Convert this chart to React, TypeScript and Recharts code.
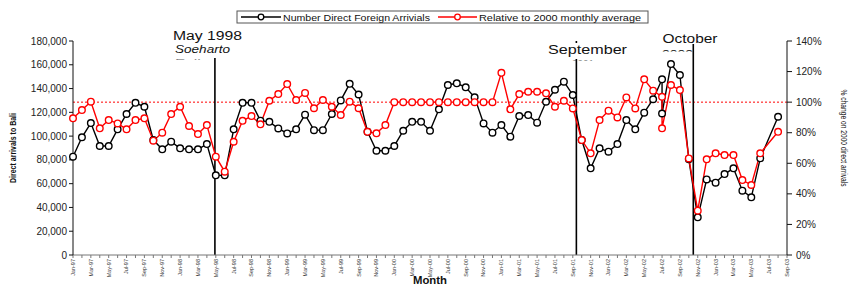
import React from 'react';
import { LineChart, Line, XAxis, YAxis, ReferenceLine } from 'recharts';

const FONT = '"Liberation Sans", Arial, Helvetica, sans-serif';

// category labels: Jan-97 .. Sep-03
const monthNames = ['Jan', 'Feb', 'Mar', 'Apr', 'May', 'Jun', 'Jul', 'Aug', 'Sep', 'Oct', 'Nov', 'Dec'];
const years = ['97', '98', '99', '00', '01', '02', '03'];
const months = years.flatMap((y) => monthNames.map((m) => `${m}-${y}`)).slice(0, 81);

// Number of direct foreign arrivals, Jan-97 .. Aug-03
const arrivals = [
  82700, 99000, 111000, 91700, 91700, 105700, 118600, 128000, 124700, 96700, 88900, 95300,
  89700, 88900, 88900, 93300, 67000, 67000, 105700, 128000, 128000, 113000, 112000, 106500,
  102300, 105700, 118000, 105000, 105000, 118600, 130000, 144000, 135000, 103700, 87700, 87700,
  91700, 104500, 112000, 112000, 104500, 122500, 143000, 144400, 141000, 132600, 110700, 102900,
  109300, 99500, 116900, 117700, 111300, 128900, 139000, 145800, 134600, 96700, 72900, 89700,
  86900, 93300, 113500, 105700, 119700, 131000, 147800, 160600, 151400, 80500, 31700, 63600,
  60800, 68100, 72900, 54100, 48500, 81300, 119000, 116300,
];

// Relative to 2000 monthly average (%), Jan-97 .. Aug-03
const relative = [
  89.4, 94.8, 100.3, 82.9, 88.3, 86.1, 82.2, 88.3, 89.4, 74.8, 80.0, 92.2,
  97.0, 84.4, 79.1, 85.0, 64.3, 54.5, 74.1, 87.8, 90.9, 85.5, 100.9, 105.3,
  111.8, 101.4, 106.0, 96.0, 101.4, 97.0, 91.6, 100.3, 96.0, 80.6, 79.6, 85.0,
  100, 100, 100, 100, 100, 100, 100, 100, 100, 100, 100, 100,
  119.2, 95.3, 105.3, 106.8, 106.8, 105.8, 97.0, 100.9, 95.9, 75.2, 66.5, 88.3,
  94.4, 90.0, 103.1, 95.9, 114.9, 107.5, 103.5, 111.2, 107.9, 63.2, 29.0, 62.6,
  66.5, 65.4, 65.4, 49.0, 45.8, 66.5, 82.9, 80.6,
];

// in the source chart the Jul-03 value sits on the Jul-02 date
const misdatedMonth = 'Jul-03';
const plottedAtMonth = 'Jul-02';

const leftTicks = [0, 20000, 40000, 60000, 80000, 100000, 120000, 140000, 160000, 180000];
const rightTicks = [0, 20, 40, 60, 80, 100, 120, 140];
const monthTicks = months.map((_, i) => i);

// event markers, in months from Jan-97
const eventMonths = [15.9, 56.4, 69.5];

const rows = arrivals.map((v, i) => ({ x: i, month: months[i], arrivals: v, relative: relative[i] }));
const at = months.indexOf(plottedAtMonth);
const stray = { ...rows[months.indexOf(misdatedMonth)], x: at };
const chartRows = [
  ...rows.slice(0, at + 1),
  stray,
  ...rows.slice(at + 1).filter((r) => r.month !== misdatedMonth),
];

function MonthTick(props: any) {
  const { x, y, payload } = props;
  const label = months[payload.value];
  if (payload.value % 2 !== 0 || !label) return <g />;
  return (
    <text
      x={x}
      y={y}
      transform={`rotate(-90 ${x} ${y})`}
      textAnchor="end"
      dy="0.35em"
      fontSize={5.5}
      fill="#333"
      fontFamily={FONT}
    >
      {label}
    </text>
  );
}

function LeftTitle() {
  return (
    <text
      x={13}
      y={148}
      transform="rotate(-90 13 148)"
      textAnchor="middle"
      dy="0.35em"
      fontSize={9}
      fontWeight="bold"
      fill="#111"
      fontFamily={FONT}
      textLength={70}
      lengthAdjust="spacingAndGlyphs"
    >
      Direct arrivals to Bali
    </text>
  );
}

function RightTitle() {
  return (
    <text
      x={844}
      y={138}
      transform="rotate(90 844 138)"
      textAnchor="middle"
      dy="0.35em"
      fontSize={9}
      fill="#111"
      fontFamily={FONT}
      textLength={97}
      lengthAdjust="spacingAndGlyphs"
    >
      % change on 2000 direct arrivals
    </text>
  );
}

function MonthTitle() {
  return (
    <text x={430} y={284} textAnchor="middle" fontSize={10} fontWeight="bold" fill="#111" fontFamily={FONT}
      textLength={34} lengthAdjust="spacingAndGlyphs">
      Month
    </text>
  );
}

const dot = (stroke: string) => ({ r: 3.3, fill: '#fff', stroke, strokeWidth: 1.4 });

function Overlay() {
  const t = { fontFamily: FONT, fill: '#111', lengthAdjust: 'spacingAndGlyphs' as const };
  return (
    <svg width={850} height={287} style={{ position: 'absolute', left: 0, top: 0, pointerEvents: 'none' }}>
      <defs>
        <clipPath id="boxMay"><rect x={171} y={27} width={78} height={32.5} /></clipPath>
        <clipPath id="boxSep"><rect x={545} y={43} width={84} height={17.5} /></clipPath>
        <clipPath id="boxOct"><rect x={659} y={32} width={62} height={19.5} /></clipPath>
      </defs>

      {/* legend */}
      <rect x={237} y={11} width={411} height={12} fill="#fff" stroke="#555" strokeWidth={1} />
      <line x1={241} y1={17} x2={281} y2={17} stroke="#000" strokeWidth={1.4} />
      <circle cx={261} cy={17} r={2.8} fill="#fff" stroke="#000" strokeWidth={1.3} />
      <text x={283} y={20.5} fontSize={9} textLength={147} {...t}>Number Direct Foreign Arrivials</text>
      <line x1={438} y1={17} x2={477} y2={17} stroke="#ff0000" strokeWidth={1.4} />
      <circle cx={457.5} cy={17} r={2.8} fill="#fff" stroke="#ff0000" strokeWidth={1.3} />
      <text x={479} y={20.5} fontSize={9} textLength={162} {...t}>Relative to 2000 monthly average</text>

      {/* event notes, the last line of each box is cut off as in the source */}
      <rect x={171} y={27} width={78} height={31} fill="#fff" />
      <g clipPath="url(#boxMay)">
        <text x={173} y={39.5} fontSize={12} textLength={69} {...t}>May 1998</text>
        <text x={175} y={52.5} fontSize={11} fontStyle="italic" textLength={55} {...t}>Soeharto</text>
        <text x={175} y={66.5} fontSize={11} textLength={34} {...t}>Falls</text>
      </g>
      <rect x={545} y={43} width={84} height={16} fill="#fff" />
      <g clipPath="url(#boxSep)">
        <text x={548} y={54} fontSize={12} textLength={79} {...t}>September</text>
        <text x={572} y={67.5} fontSize={11} textLength={22} {...t}>2001</text>
      </g>
      <rect x={659} y={32} width={62} height={12} fill="#fff" />
      <g clipPath="url(#boxOct)">
        <text x={662.5} y={43.3} fontSize={12} textLength={55} {...t}>October</text>
        <text x={662} y={57.5} fontSize={11} textLength={31} {...t}>2002</text>
      </g>
    </svg>
  );
}

export default function App() {
  return (
    <div style={{ position: 'absolute', left: 0, top: 0, width: 850, height: 287, background: '#fff' }}>
      <LineChart width={850} height={287} data={chartRows} margin={{ top: 41, right: 0, bottom: 0, left: 0 }}>
        <XAxis
          dataKey="x"
          type="number"
          domain={[0, 80]}
          ticks={monthTicks}
          interval={0}
          height={32}
          tick={<MonthTick />}
          tickSize={3}
          tickMargin={1}
          axisLine={{ stroke: '#777' }}
          tickLine={{ stroke: '#777' }}
          label={<MonthTitle />}
        />
        <YAxis
          yAxisId="left"
          orientation="left"
          width={73}
          domain={[0, 180000]}
          ticks={leftTicks}
          interval={0}
          tickFormatter={(v: number) => v.toLocaleString('en-US')}
          tick={{ fontSize: 10, fill: '#222', fontFamily: FONT }}
          tickSize={4}
          tickMargin={2}
          axisLine={{ stroke: '#111' }}
          tickLine={{ stroke: '#111' }}
          label={<LeftTitle />}
        />
        <YAxis
          yAxisId="right"
          orientation="right"
          width={63}
          domain={[0, 140]}
          ticks={rightTicks}
          interval={0}
          tickFormatter={(v: number) => `${v}%`}
          tick={{ fontSize: 10, fill: '#222', fontFamily: FONT, textAnchor: 'start' }}
          tickSize={5}
          tickMargin={4}
          axisLine={{ stroke: '#111' }}
          tickLine={{ stroke: '#111' }}
          label={<RightTitle />}
        />
        <ReferenceLine yAxisId="right" y={100} stroke="#ff0000" strokeDasharray="2 2" strokeWidth={1} />
        {eventMonths.map((m) => (
          <ReferenceLine key={m} yAxisId="left" x={m} stroke="#000" strokeWidth={1.6} />
        ))}
        <Line
          yAxisId="left"
          dataKey="arrivals"
          stroke="#000"
          strokeWidth={1.4}
          dot={dot('#000')}
          activeDot={false}
          isAnimationActive={false}
        />
        <Line
          yAxisId="right"
          dataKey="relative"
          stroke="#ff0000"
          strokeWidth={1.4}
          dot={dot('#ff0000')}
          activeDot={false}
          isAnimationActive={false}
        />
      </LineChart>
      <Overlay />
    </div>
  );
}
